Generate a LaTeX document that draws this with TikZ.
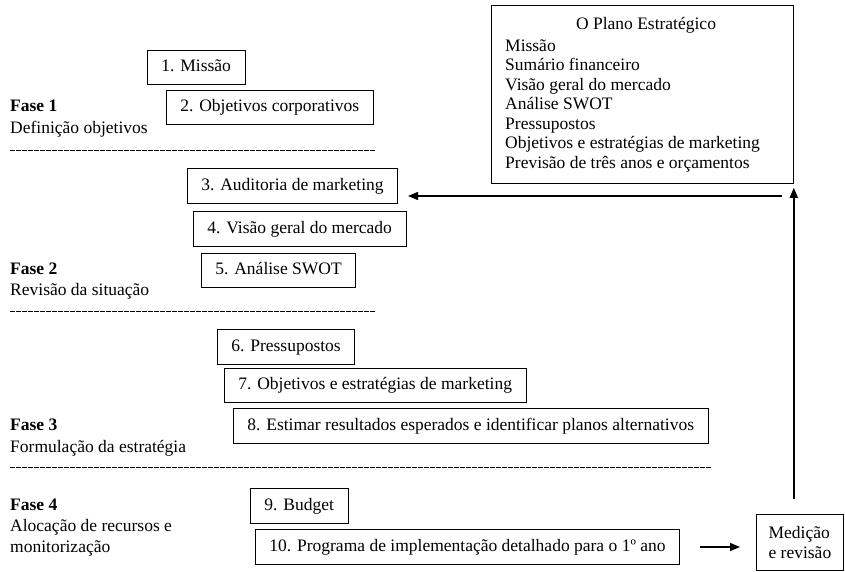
\documentclass[tikz,border=0pt]{standalone}
\usepackage{fontspec}
\setmainfont{Liberation Serif}
\usetikzlibrary{arrows.meta}

\begin{document}
\begin{tikzpicture}[x=1pt,y=-1pt,
  font=\fontsize{17.5}{19.5}\selectfont,
  etapa/.style={draw,line width=.8pt,anchor=west,inner xsep=14pt,inner ysep=9pt,text height=12.5pt,text depth=4pt},
  fase/.style={anchor=west,inner sep=0pt,text height=12.5pt,text depth=4pt},
  corte/.style={line width=.9pt,dash pattern=on 4.5pt off 1.5pt},
  seta/.style={line width=1.5pt,-{Triangle[length=10pt,width=8pt]}}]
\useasboundingbox (0,0) rectangle (845,571);

% fases
\node[fase] (f1) at (10,107) {\textbf{Fase 1}};
\node[fase] (f1d) at (10,129) {Definição objetivos};
\node[fase] (f2) at (10,270) {\textbf{Fase 2}};
\node[fase] (f2d) at (10,291) {Revisão da situação};
\node[fase] (f3) at (10,426) {\textbf{Fase 3}};
\node[fase] (f3d) at (10,448) {Formulação da estratégia};
\node[fase] (f4) at (10,506) {\textbf{Fase 4}};
\node[fase] (f4d) at (10,527) {Alocação de recursos e};
\node[fase] (f4e) at (10,548) {monitorização};

\draw[corte] (10,150) -- (375,150);
\draw[corte] (10,311) -- (375,311);
\draw[corte] (10,467) -- (711,467);

% etapas
\node[etapa] (m1) at (147,67.5) {1. Missão};
\node[etapa] (m2) at (166,107.5) {2. Objetivos corporativos};
\node[etapa] (m3) at (187,186) {3. Auditoria de marketing};
\node[etapa] (m4) at (193,229) {4. Visão geral do mercado};
\node[etapa] (m5) at (201,270.5) {5. Análise SWOT};
\node[etapa] (m6) at (217,347) {6. Pressupostos};
\node[etapa] (m7) at (224,385.5) {7. Objetivos e estratégias de marketing};
\node[etapa] (m8) at (233,426) {8. Estimar resultados esperados e identificar planos alternativos};
\node[etapa] (m9) at (250,506) {9. Budget};
\node[etapa] (m10) at (255,547) {10. Programa de implementação detalhado para o 1º ano};

% plano estrategico
\node[draw,line width=.8pt,anchor=north west,minimum width=302pt,minimum height=178pt,inner sep=0pt] (plano) at (491,5) {};
\node (titulo) at (646,25) {O Plano Estratégico};
\foreach \txt [count=\i] in {Missão,Sumário financeiro,Visão geral do mercado,Análise SWOT,Pressupostos,Objetivos e estratégias de marketing,Previsão de três anos e orçamentos}
  \node[fase] (p\i) at (505,{47+19.5*(\i-1)}) {\txt};

\node[draw,line width=.8pt,anchor=north west,minimum width=87pt,minimum height=56pt,align=left,inner xsep=12pt] (med) at (756,514) {Medição\\e revisão};

% setas
\draw[seta,shorten <=20pt,shorten >=16pt] (m10.east) -- (m10.east -| med.west);
\draw[seta,shorten <=15pt,shorten >=4pt] (med.north -| plano.east) -- (plano.south east);
\coordinate (volta) at (782,196);
\draw[seta,shorten >=10pt] (volta) -- (volta -| m3.east);

\end{tikzpicture}
\end{document}
